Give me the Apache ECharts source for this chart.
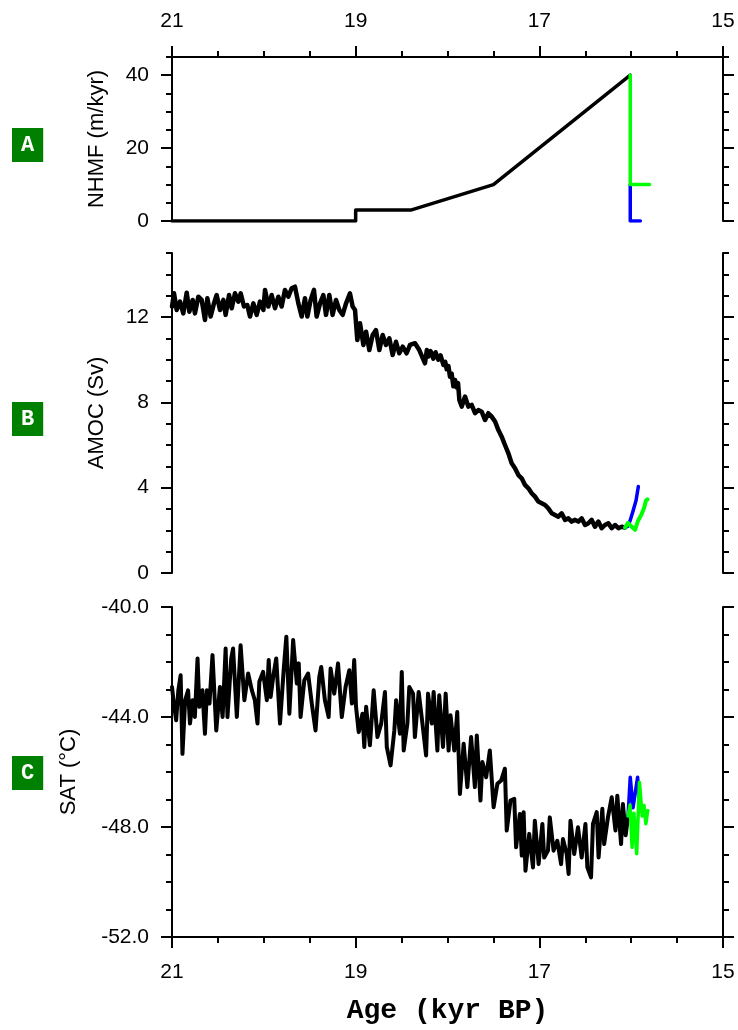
<!DOCTYPE html>
<html><head><meta charset="utf-8">
<script src="https://cdn.jsdelivr.net/npm/echarts@6/dist/echarts.min.js"></script>
<style>html,body{margin:0;padding:0;background:#fff}#c{width:738px;height:1030px}</style>
</head><body><div id="c"></div><script>
// ---------- x axis (Age, kyr BP) ----------
const ageTicks = [15, 17, 19, 21];

// ---------- Panel A: NHMF (m/kyr) ----------
const nhmfTicks = [0, 20, 40];
const nhmfAge = [21.0, 19.0, 19.0, 18.4, 17.5, 16.01];
const nhmfVal = [0, 0, 3, 3, 10, 40];
const nhmfGreenAge = [16.01, 16.01, 15.80];
const nhmfGreenVal = [40, 10, 10];
const nhmfBlueAge = [16.01, 16.01, 15.90];
const nhmfBlueVal = [10, 0, 0];

// ---------- Panel B: AMOC (Sv) ----------
const amocTicks = [0, 4, 8, 12];
const amocAge = [21.000,20.978,20.949,20.913,20.877,20.840,20.811,20.775,20.750,20.713,
20.677,20.641,20.615,20.579,20.543,20.514,20.477,20.441,20.416,20.379,
20.350,20.314,20.278,20.252,20.216,20.180,20.151,20.114,20.078,20.042,
20.005,19.987,19.951,19.915,19.878,19.842,19.806,19.770,19.733,19.697,
19.661,19.624,19.588,19.552,19.526,19.490,19.454,19.425,19.388,19.352,
19.323,19.287,19.251,19.214,19.178,19.142,19.105,19.062,19.033,19.007,
18.982,18.953,18.916,18.887,18.851,18.815,18.779,18.742,18.706,18.670,
18.633,18.597,18.561,18.525,18.488,18.445,18.408,18.354,18.307,
18.245,18.225,18.208,18.185,18.154,18.130,18.100,18.075,18.045,18.025,
18.009,17.990,17.973,17.955,17.936,17.918,17.900,17.885,17.871,
17.845,17.809,17.773,17.737,17.700,17.664,17.628,17.591,17.555,17.519,
17.482,17.446,17.410,17.374,17.337,17.301,17.265,17.228,17.192,17.156,
17.119,17.083,17.047,17.011,16.974,16.938,16.902,16.865,16.829,16.793,
16.757,16.720,16.684,16.648,16.611,16.575,16.539,16.502,16.466,16.430,
16.394,16.357,16.321,16.285,16.248,16.212,16.176,16.139,16.103,16.067];
const amocVal = [12.49,13.11,12.33,12.72,12.17,13.14,12.25,12.80,12.17,12.95,
12.80,11.86,12.88,12.02,12.64,13.03,12.33,12.80,12.10,13.03,
12.41,13.11,12.72,13.11,12.49,12.56,12.02,12.64,12.10,12.72,
12.33,13.27,12.49,13.03,12.41,12.95,12.49,13.27,12.95,13.35,
13.42,12.64,12.02,12.88,12.02,12.80,13.27,12.02,12.64,13.03,
12.10,13.03,12.10,12.80,12.33,12.10,12.64,13.11,12.49,12.33,
10.92,11.71,10.69,11.31,10.45,11.16,11.39,10.45,11.16,10.69,
11.00,10.22,10.84,10.30,10.61,10.30,10.69,10.77,10.45,
9.83,10.45,10.15,10.40,10.05,10.35,10.00,10.20,9.75,9.90,
9.55,9.70,9.20,9.35,8.75,9.05,8.70,8.90,8.11,
7.80,8.27,7.80,7.88,7.49,7.64,7.56,7.17,7.49,7.33,
7.10,6.70,6.39,6.00,5.61,5.14,4.91,4.59,4.44,4.13,
3.97,3.74,3.58,3.35,3.27,3.19,3.03,2.80,2.72,2.64,
2.80,2.49,2.56,2.41,2.49,2.41,2.56,2.25,2.33,2.49,
2.17,2.41,2.10,2.25,2.33,2.10,2.25,2.10,2.17,2.13];
const amocBlueAge = [16.067,16.034,16.012,15.980,15.947,15.922];
const amocBlueVal = [2.13,2.20,2.45,2.90,3.40,4.05];
const amocGreenAge = [16.067,16.034,16.002,15.958,15.925,15.893,15.860,15.838,15.822];
const amocGreenVal = [2.13,2.35,2.20,2.02,2.45,2.70,3.05,3.40,3.45];

// ---------- Panel C: SAT (°C) ----------
const satTicks = [-52, -48, -44, -40];
const satAge = [21.000,20.980,20.955,20.931,20.906,20.886,20.857,20.825,20.804,20.776,
20.751,20.722,20.702,20.669,20.641,20.620,20.592,20.559,20.518,20.478,
20.449,20.416,20.396,20.375,20.355,20.335,20.294,20.253,20.212,20.171,
20.130,20.098,20.069,20.049,20.008,19.967,19.947,19.926,19.898,19.865,
19.824,19.784,19.755,19.722,19.681,19.641,19.620,19.600,19.559,19.518,
19.478,19.437,19.396,19.375,19.335,19.294,19.273,19.233,19.192,19.151,
19.110,19.069,19.041,19.016,18.996,18.967,18.926,18.906,18.886,18.845,
18.804,18.763,18.722,18.681,18.661,18.620,18.579,18.559,18.518,18.498,
18.477,18.437,18.416,18.375,18.355,18.314,18.273,18.233,18.212,18.171,
18.151,18.110,18.090,18.049,18.020,17.988,17.967,17.926,17.894,17.865,
17.824,17.784,17.743,17.702,17.681,17.641,17.620,17.579,17.539,17.498,
17.457,17.416,17.375,17.355,17.314,17.273,17.253,17.212,17.191,17.171,
17.151,17.110,17.069,17.049,17.008,16.967,16.947,16.906,16.886,16.845,
16.804,16.763,16.743,16.702,16.681,16.661,16.620,16.579,16.539,16.498,
16.477,16.437,16.416,16.375,16.355,16.314,16.294,16.253,16.212,16.171,
16.151,16.110,16.090,16.060,16.034];
const satVal = [-42.91,-43.51,-44.12,-43.03,-42.48,-45.34,-43.39,-43.03,-44.24,-43.39,
-44.00,-41.87,-43.63,-43.03,-44.61,-43.03,-43.51,-41.75,-44.49,-42.91,
-44.00,-41.51,-44.00,-42.91,-41.87,-41.51,-44.00,-41.39,-43.39,-42.42,
-43.03,-43.39,-44.24,-42.72,-42.36,-43.39,-41.93,-43.27,-42.54,-41.87,
-44.24,-42.30,-41.08,-43.88,-41.20,-42.78,-42.05,-44.00,-42.66,-42.42,
-43.51,-44.49,-42.54,-42.18,-43.39,-44.00,-42.24,-43.15,-42.05,-44.00,
-42.91,-42.30,-43.51,-41.93,-43.63,-44.55,-43.88,-45.09,-43.63,-45.03,
-43.03,-44.73,-44.24,-43.09,-45.09,-45.76,-44.49,-43.39,-44.61,-42.36,
-45.22,-44.24,-42.91,-43.15,-44.73,-43.09,-44.24,-45.40,-43.15,-44.24,
-43.09,-45.22,-43.21,-45.09,-43.15,-45.22,-43.94,-45.22,-43.82,-46.80,
-44.97,-46.55,-44.73,-46.55,-44.67,-47.04,-45.64,-46.19,-45.22,-47.28,
-46.43,-46.31,-45.88,-48.13,-47.04,-46.98,-48.74,-47.53,-49.04,-47.46,
-49.59,-48.25,-49.47,-47.77,-49.35,-47.89,-49.11,-48.86,-47.65,-48.86,
-48.50,-49.35,-48.44,-48.98,-49.71,-47.77,-48.98,-48.01,-49.11,-47.89,
-49.47,-49.83,-47.89,-47.46,-49.11,-47.34,-48.62,-47.65,-46.92,-48.13,
-46.86,-48.62,-47.16,-48.30,-47.60];
const satBlueAge = [16.034,16.010,15.980,15.930,15.910];
const satBlueVal = [-47.60,-46.19,-47.30,-46.19,-47.00];
const satGreenAge = [16.034,16.012,15.990,15.970,15.940,15.910,15.880,15.860,15.840,15.820];
const satGreenVal = [-47.60,-47.20,-48.74,-47.50,-48.97,-46.37,-47.60,-47.22,-47.88,-47.40];

// ---------- helpers ----------
const pairs = (a, v) => a.map((x, i) => [x, v[i]]);
const BLACK = '#000000', BLUE = '#0000ff', GREEN = '#00ff00';
const FONT = 'Liberation Sans, Arial, sans-serif';
const axLine = {show: true, onZero: false, lineStyle: {color: '#000', width: 2}};
const tickStyle = {color: '#000', width: 2};

function xAxis(g, pos, show, name) {
  return {
    type: 'value', gridIndex: g, min: 15, max: 21, interval: 2, inverse: true,
    position: pos, show: show,
    axisLine: axLine,
    axisTick: {show: true, length: 11, lineStyle: tickStyle},
    minorTick: {show: true, splitNumber: 4, length: 6, lineStyle: tickStyle},
    axisLabel: {show: true, margin: 25, fontSize: 21, color: '#000', fontFamily: FONT,
      customValues: ageTicks},
    splitLine: {show: false}, minorSplitLine: {show: false},
    name: name || '', nameLocation: 'middle', nameGap: 60,
    nameTextStyle: {fontFamily: 'Liberation Mono, Courier New, monospace', fontWeight: 'bold',
      fontSize: 28, color: '#000'}
  };
}
function yAxes(g, min, max, majors, minorInt, fmt, name, gap) {
  const base = {type: 'value', gridIndex: g, min: min, max: max,
    splitLine: {show: false}, minorSplitLine: {show: false}};
  const major = (pos, lab) => Object.assign({}, base, {
    position: pos, axisLine: axLine,
    axisTick: {show: true, length: 11, lineStyle: tickStyle, customValues: majors},
    axisLabel: {show: lab, margin: 23, fontSize: 21, color: '#000', fontFamily: FONT,
      customValues: majors, formatter: fmt},
    name: lab ? name : '', nameLocation: 'middle', nameRotate: 90, nameGap: gap,
    nameTextStyle: {fontFamily: FONT, fontSize: 22, color: '#000'}
  });
  const minor = (pos) => Object.assign({}, base, {
    position: pos, interval: minorInt, axisLine: {show: false},
    axisTick: {show: true, length: 6, lineStyle: tickStyle},
    axisLabel: {show: false}
  });
  return [major('left', true), minor('left'), major('right', false), minor('right')];
}
function line(g, age, val, color, z, w) {
  return {type: 'line', xAxisIndex: g, yAxisIndex: 4 * g, data: pairs(age, val),
    showSymbol: false, symbol: 'none', z: z, silent: true,
    lineStyle: {color: color, width: w, join: 'round', cap: 'round'}, itemStyle: {color: color}};
}

const letterBox = (t, top) => ({
  text: t, left: 12, top: top, backgroundColor: '#008000', padding: [6, 9, 6, 9],
  textStyle: {color: '#fff', fontFamily: 'Liberation Mono, Courier New, monospace',
    fontWeight: 'bold', fontSize: 22, lineHeight: 22}
});

const chart = echarts.init(document.getElementById('c'), null, {renderer: 'canvas'});
chart.setOption({
  animation: false,
  backgroundColor: '#fff',
  title: [letterBox('A', 128), letterBox('B', 402), letterBox('C', 756)],
  grid: [
    {left: 172, top: 57, width: 551, height: 164},
    {left: 172, top: 253, width: 551, height: 320},
    {left: 172, top: 607, width: 551, height: 330}
  ],
  xAxis: [xAxis(0, 'top', true), xAxis(1, 'bottom', false), xAxis(2, 'bottom', true, 'Age (kyr BP)')],
  yAxis: [].concat(
    yAxes(0, 0, 45, nhmfTicks, 5, v => String(v), 'NHMF (m/kyr)', 64),
    yAxes(1, 0, 15, amocTicks, 1, v => String(v), 'AMOC (Sv)', 64),
    yAxes(2, -52, -40, satTicks, 1, v => v.toFixed(1), 'SAT (\u00B0C)', 92)
  ),
  series: [
    line(0, nhmfAge, nhmfVal, BLACK, 3, 3.5),
    line(0, nhmfBlueAge, nhmfBlueVal, BLUE, 4, 3.5),
    line(0, nhmfGreenAge, nhmfGreenVal, GREEN, 5, 3.5),
    line(1, amocAge, amocVal, BLACK, 3, 4.5),
    line(1, amocBlueAge, amocBlueVal, BLUE, 4, 3.5),
    line(1, amocGreenAge, amocGreenVal, GREEN, 5, 4),
    line(2, satAge, satVal, BLACK, 3, 4),
    line(2, satBlueAge, satBlueVal, BLUE, 4, 3.5),
    line(2, satGreenAge, satGreenVal, GREEN, 5, 3.5)
  ]
});
</script></body></html>
